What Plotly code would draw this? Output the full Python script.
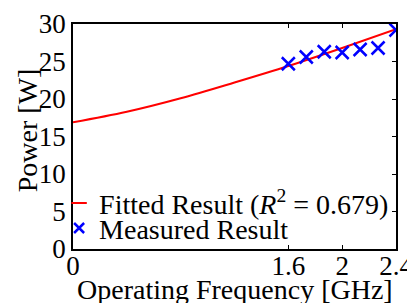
import plotly.graph_objects as go

# Fitted curve
fit_x = [0.0, 0.4, 0.8, 1.2, 1.6, 2.0, 2.4]
fit_y = [16.9, 18.3, 20.1, 22.2, 24.4, 26.8, 29.3]

# Measured points
meas_x = [1.6, 1.7333, 1.8667, 2.0, 2.1333, 2.2667, 2.4]
meas_y = [24.7, 25.6, 26.3, 26.2, 26.6, 26.8, 29.2]

x_ticks = [0, 1.6, 2, 2.4]
x_tick_text = ["0", "1.6", "2", "2.4"]
y_ticks = [0, 5, 10, 15, 20, 25, 30]

FONT = "Liberation Serif"

fig = go.Figure()
fig.add_trace(go.Scatter(x=fit_x, y=fit_y, mode="lines", line=dict(color="red", width=2, shape="spline"),
                         showlegend=False))
fig.add_trace(go.Scatter(x=meas_x, y=meas_y, mode="markers",
                         marker=dict(symbol="x-thin", size=13, line=dict(color="blue", width=2.5), color="blue"),
                         showlegend=False))
# legend entries
fig.add_trace(go.Scatter(x=[None], y=[None], mode="markers",
                         marker=dict(symbol="line-ew", size=11, line=dict(color="red", width=2)),
                         name="Fitted Result (<i>R</i><sup>2</sup> = 0.679)", legend="legend"))
fig.add_trace(go.Scatter(x=[None], y=[None], mode="markers",
                         marker=dict(symbol="x-thin", size=10, line=dict(color="blue", width=2.5)),
                         name="Measured Result", legend="legend2"))
# right axis for inner ticks
fig.add_trace(go.Scatter(x=[None], y=[None], yaxis="y2", showlegend=False))

leg_common = dict(xanchor="left", yanchor="middle", bgcolor="rgba(0,0,0,0)",
                  borderwidth=0, font=dict(size=28), itemwidth=30)

# page body has an 8px default margin, so margins are offset by 8px
fig.update_layout(
    width=415, height=303,
    margin=dict(l=65, r=27, t=16, b=62, autoexpand=False),
    paper_bgcolor="white", plot_bgcolor="white",
    font=dict(family=FONT, size=27, color="black"),
    showlegend=True,
    xaxis=dict(range=[0, 2.4], tickvals=x_ticks, ticktext=x_tick_text, ticks="inside", ticklen=4,
               tickcolor="black", mirror="ticks", showline=True, linecolor="black", linewidth=1.5,
               showgrid=False, zeroline=False, tickfont=dict(size=27), automargin=False,
               ticklabelstandoff=-8),
    yaxis=dict(range=[0, 30], tickvals=y_ticks, ticks="", showline=True, mirror=True,
               linecolor="black", linewidth=1.5, showgrid=False, zeroline=False, tickfont=dict(size=27),
               automargin=False),
    yaxis2=dict(range=[0, 30], tickvals=y_ticks, overlaying="y", side="right", ticks="inside",
                ticklen=4, tickcolor="black", showticklabels=False, showgrid=False, zeroline=False,
                showline=False, automargin=False),
    legend=dict(x=-0.043, y=0.203, **leg_common),
    legend2=dict(x=-0.043, y=0.092, **leg_common),
    annotations=[
        dict(text="Operating Frequency [GHz]", xref="paper", yref="paper", x=0.5, y=-0.18,
             xanchor="center", yanchor="middle", showarrow=False, font=dict(size=28)),
        dict(text="Power [W]", xref="paper", yref="paper", x=-0.14, y=0.527, textangle=-90,
             xanchor="center", yanchor="middle", showarrow=False, font=dict(size=28)),
    ],
)

fig.write_html("out.html")
